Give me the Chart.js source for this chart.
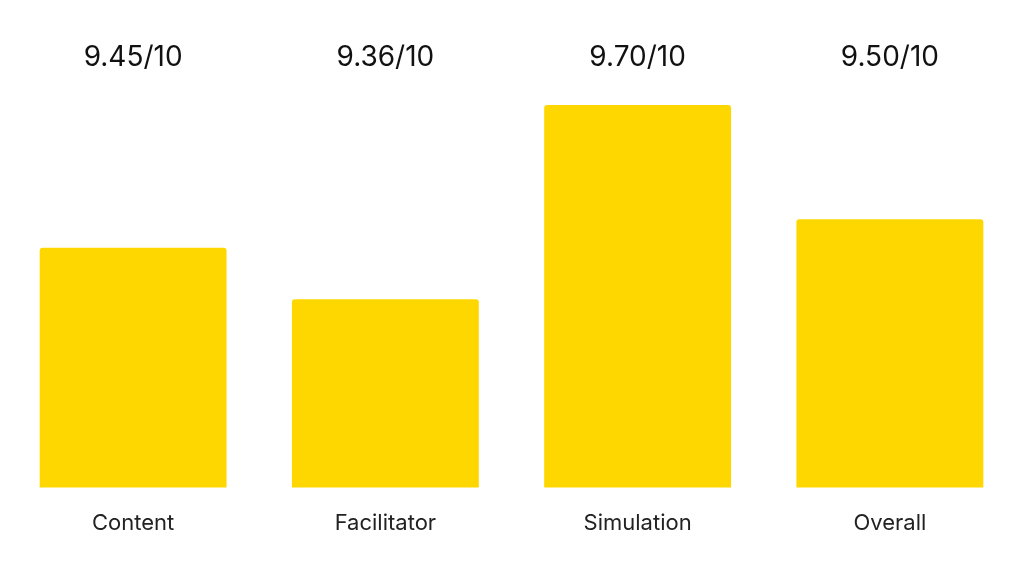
<!DOCTYPE html>
<html>
<head>
<meta charset="utf-8">
<script src="https://cdn.jsdelivr.net/npm/chart.js@4"></script>
<style>
  html, body { margin: 0; padding: 0; background: #ffffff; }
  #wrap { width: 1024px; height: 576px; }
</style>
</head>
<body>
<div id="wrap"><canvas id="scoreChart"></canvas></div>
<script>
var categories = ["Content", "Facilitator", "Simulation", "Overall"];
var scores = [9.45, 9.36, 9.70, 9.50];
var scoreLabels = ["9.45/10", "9.36/10", "9.70/10", "9.50/10"];

// scores drawn above each bar, on one line
var topLabels = {
    id: "topLabels",
    afterDraw: function (chart) {
        var ctx = chart.ctx;
        var meta = chart.getDatasetMeta(0);
        ctx.save();
        ctx.font = "28px Inter";
        ctx.fillStyle = "#111111";
        ctx.textAlign = "center";
        ctx.textBaseline = "middle";
        meta.data.forEach(function (bar, i) {
            ctx.fillText(scoreLabels[i], bar.x, 58);
        });
        ctx.restore();
    }
};

var ctx = document.getElementById("scoreChart").getContext("2d");
var myChart = new Chart(ctx, {
    type: "bar",
    data: {
        labels: categories,
        datasets: [{
            data: scores,
            backgroundColor: "#FFD700",
            borderRadius: 3,
            borderSkipped: false,
            barPercentage: 0.741,
            categoryPercentage: 1.0
        }]
    },
    options: {
        responsive: true,
        maintainAspectRatio: false,
        animation: false,
        layout: { padding: { top: 105, left: 7, right: 8, bottom: 16 } },
        plugins: {
            legend: { display: false },
            tooltip: { enabled: false }
        },
        scales: {
            x: {
                grid: { display: false, drawTicks: false },
                border: { display: false },
                ticks: {
                    color: "#222222",
                    font: { family: "Inter", size: 22 },
                    padding: 23
                }
            },
            y: {
                display: false,
                min: 9.03,
                max: 9.70
            }
        }
    },
    plugins: [topLabels]
});
</script>
</body>
</html>
